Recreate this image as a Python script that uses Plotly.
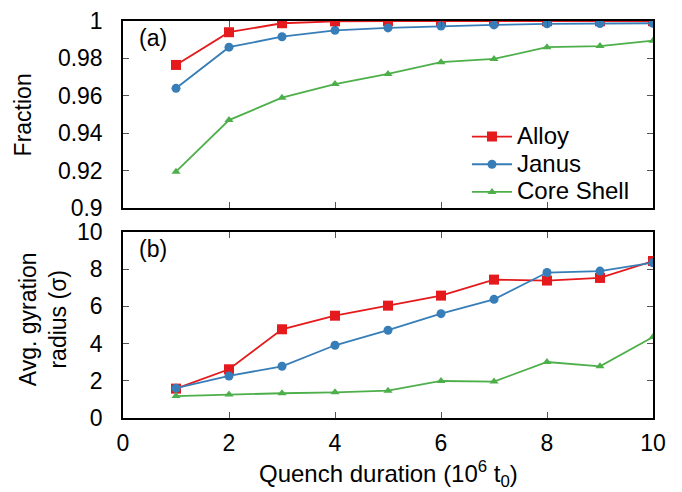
import plotly.graph_objects as go

duration = [1, 2, 3, 4, 5, 6, 7, 8, 9, 10]

frac_alloy = [0.9765, 0.994, 0.9988, 0.9998, 0.9999, 0.9999, 0.9999, 0.9999, 0.9999, 0.9999]
frac_janus = [0.964, 0.986, 0.9916, 0.995, 0.9963, 0.9973, 0.9979, 0.9985, 0.9986, 0.9988]
frac_core = [0.9194, 0.947, 0.959, 0.9663, 0.9717, 0.978, 0.9797, 0.986, 0.9866, 0.9895]

rg_alloy = [1.58, 2.62, 4.77, 5.50, 6.04, 6.58, 7.44, 7.39, 7.53, 8.44]
rg_janus = [1.60, 2.26, 2.78, 3.91, 4.72, 5.61, 6.38, 7.82, 7.90, 8.35]
rg_core = [1.18, 1.27, 1.33, 1.38, 1.47, 1.99, 1.96, 3.01, 2.78, 4.35]

names = ["Alloy", "Janus", "Core Shell"]
colors = ["#e41a1c", "#377eb8", "#4daf4a"]
symbols = ["square", "circle", "triangle-up"]
msizes = [10, 9, 8]

FONT = "Liberation Sans, Arial, sans-serif"
TS = 23

fig = go.Figure()
for name, col, sym, ms, fy, ry in zip(names, colors, symbols, msizes,
                                      [frac_alloy, frac_janus, frac_core],
                                      [rg_alloy, rg_janus, rg_core]):
    fig.add_trace(go.Scatter(x=duration, y=fy, mode="lines+markers",
                             name='<span style="font-size:24px">' + name + "</span>",
                             line=dict(color=col, width=1.8),
                             marker=dict(symbol=sym, size=ms, color=col),
                             xaxis="x", yaxis="y", showlegend=True))
    fig.add_trace(go.Scatter(x=duration, y=ry, mode="lines+markers", name=name,
                             line=dict(color=col, width=1.8),
                             marker=dict(symbol=sym, size=ms, color=col),
                             xaxis="x2", yaxis="y2", showlegend=False))

axis_common = dict(showline=True, linecolor="black", linewidth=1.5, mirror="ticks",
                   ticks="inside", ticklen=6, tickcolor="#555555", tickwidth=1,
                   showgrid=False, zeroline=False, automargin=False,
                   tickfont=dict(family=FONT, size=23, color="black"))

fig.update_layout(
    width=674, height=484,
    margin=dict(l=115, r=29, t=13, b=74),
    paper_bgcolor="white", plot_bgcolor="white",
    font=dict(family=FONT, size=22, color="black"),
    xaxis=dict(domain=[0, 1], range=[0, 10], dtick=2, anchor="y",
               showticklabels=False, **axis_common),
    yaxis=dict(domain=[0.529, 1], range=[0.9, 1], dtick=0.02, anchor="x",
               ticklabelstandoff=14, **axis_common),
    xaxis2=dict(domain=[0, 1], range=[0, 10], dtick=2, anchor="y2",
                ticklabelstandoff=4, **axis_common),
    yaxis2=dict(domain=[0, 0.4685], range=[0, 10], dtick=2, anchor="x2",
                ticklabelstandoff=14, **axis_common),
    legend=dict(x=0.966, y=0.638, xanchor="right", yanchor="middle",
                bgcolor="rgba(0,0,0,0)", font=dict(family=FONT, size=19),
                tracegroupgap=0, itemwidth=40),
    annotations=[
        dict(text="(a)", x=0.026, y=0.91, xref="x domain", yref="y domain",
             xanchor="left", yanchor="middle", showarrow=False,
             font=dict(family=FONT, size=TS)),
        dict(text="(b)", x=0.026, y=0.91, xref="x2 domain", yref="y2 domain",
             xanchor="left", yanchor="middle", showarrow=False,
             font=dict(family=FONT, size=TS)),
        dict(text="Fraction", x=-0.187, y=0.7645, xref="paper", yref="paper",
             xanchor="center", yanchor="middle", textangle=-90, showarrow=False,
             font=dict(family=FONT, size=TS)),
        dict(text="Avg. gyration<br>radius (σ)", x=-0.152, y=0.25,
             xref="paper", yref="paper", xanchor="center", yanchor="middle",
             textangle=-90, showarrow=False,
             font=dict(family=FONT, size=TS)),
        dict(text="Quench duration (10<sup>6</sup> t<sub>0</sub>)", x=0.5, y=-0.142,
             xref="paper", yref="paper", xanchor="center", yanchor="middle",
             showarrow=False, font=dict(family=FONT, size=24)),
    ],
)

fig.write_html("out.html")
